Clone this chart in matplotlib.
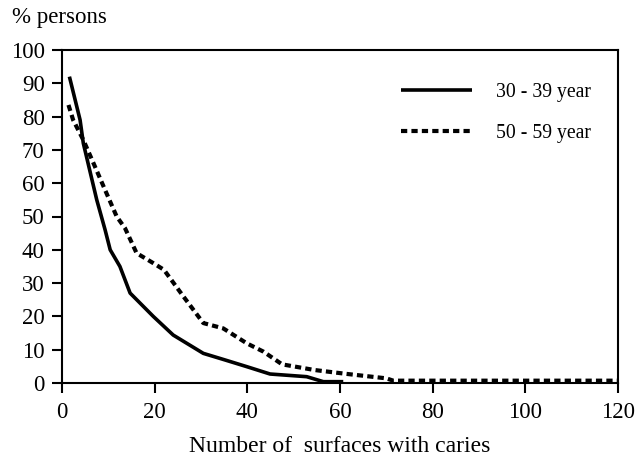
import matplotlib
matplotlib.use("Agg")
import matplotlib.pyplot as plt

# 30 - 39 year (solid)
x_30 = [1.6, 3.9, 4.6, 7.5, 9.3, 10.4, 12.5, 14.7, 19.7, 24.0, 30.5, 35.0, 39.9, 44.9, 52.8, 56.4, 60.7]
y_30 = [92, 79, 72, 55, 46, 40, 35, 27, 20, 14.4, 8.9, 7.0, 4.9, 2.7, 1.9, 0.4, 0.4]

# 50 - 59 year (dotted)
x_50 = [1.4, 2.4, 4.6, 6.8, 9.6, 11.8, 13.6, 16.1, 19.7, 22.0, 26.2, 30.5, 34.8, 39.9, 43.5,
        47.5, 54.5, 61.0, 70.0, 71.5, 80, 100, 120]
y_50 = [83.5, 79, 73, 66, 57, 50, 46.5, 39, 36, 34, 26, 18, 16.4, 11.9, 9.4,
        5.6, 3.9, 2.8, 1.4, 0.7, 0.7, 0.7, 0.7]

xticks = [0, 20, 40, 60, 80, 100, 120]
yticks = [0, 10, 20, 30, 40, 50, 60, 70, 80, 90, 100]

plt.rcParams['font.family'] = ['Liberation Serif', 'DejaVu Serif']

fig = plt.figure(figsize=(6.37, 4.57), dpi=100)
ax = fig.add_axes([62/637, 1-383/457, 556/637, 333/457])

ax.plot(x_30, y_30, color='black', lw=2.6, solid_capstyle='butt',
        solid_joinstyle='round', label='30 - 39 year')
ax.plot(x_50, y_50, color='black', lw=3, linestyle=(0, (1.5, 1.0)),
        dash_capstyle='butt', label='50 - 59 year')

ax.set_xlim(0, 120)
ax.set_ylim(0, 100)
ax.set_xticks(xticks)
ax.set_yticks(yticks)
ax.tick_params(direction='out', length=7, width=1.5, labelsize=16.5)
ax.tick_params(axis='y', pad=5.5)
ax.tick_params(axis='x', pad=7)
for s in ax.spines.values():
    s.set_linewidth(1.5)

ax.set_xlabel('Number of  surfaces with caries', fontsize=17, labelpad=9)
fig.text(12/637, 1-18/457, '% persons', fontsize=16.5, va='center', ha='left')

ax.legend(loc='center left', bbox_to_anchor=(0.61, 0.811), frameon=False,
          fontsize=14.2, handlelength=3.6, handletextpad=1.2, labelspacing=1.1,
          borderpad=0, borderaxespad=0)

fig.savefig('out.png', dpi=100)
